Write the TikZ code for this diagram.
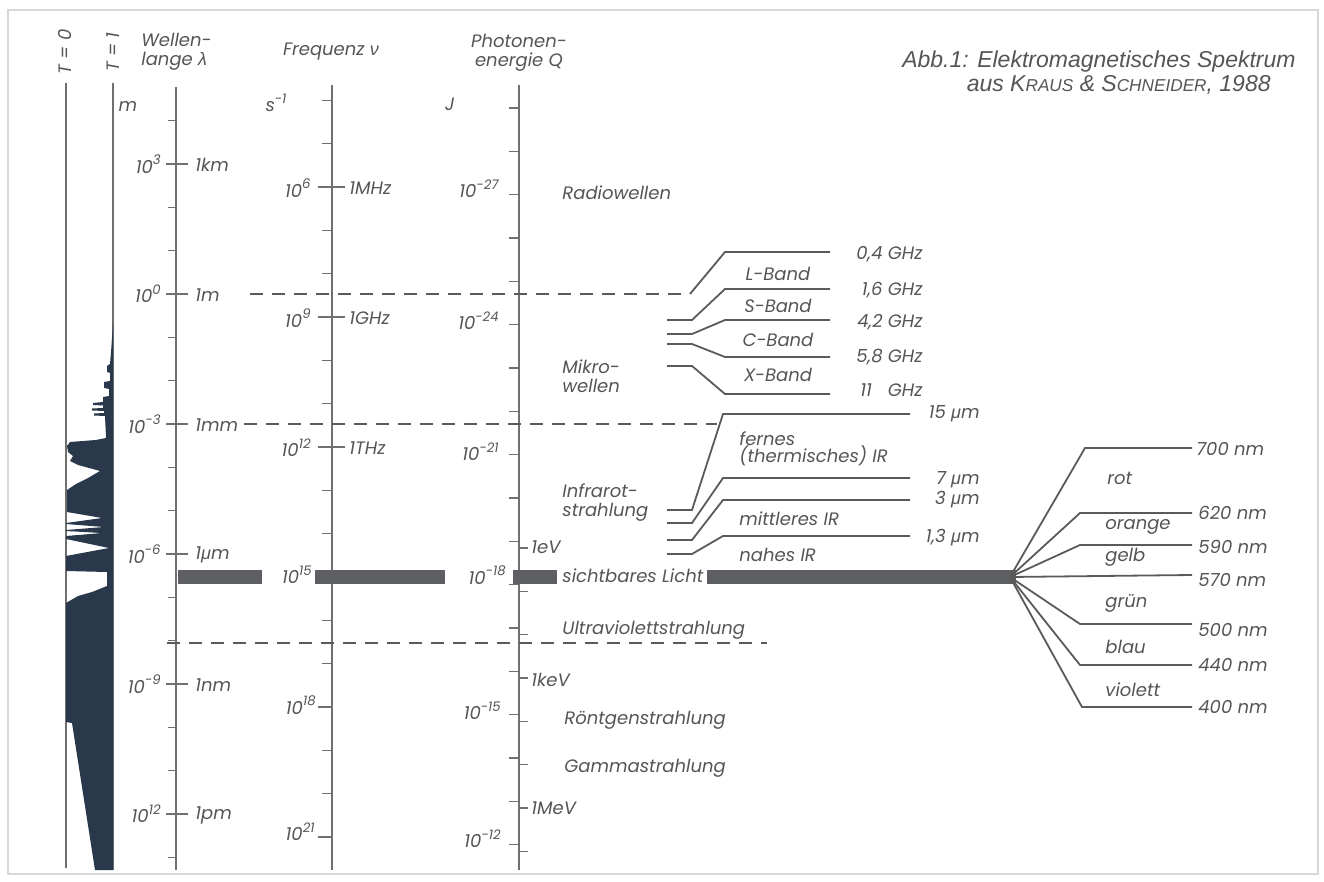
\documentclass[tikz,border=0pt]{standalone}
\usepackage{fontspec}
\setmainfont{Poppins}
\newfontfamily\ttlfont{Liberation Sans}
\newfontfamily\grkfont{Liberation Sans}
\definecolor{axc}{HTML}{707070}
\definecolor{txt}{HTML}{555555}
\definecolor{lnc}{HTML}{5A5A5A}
\definecolor{fillc}{RGB}{42,56,76}
\definecolor{barc}{HTML}{5E5F63}
\definecolor{framec}{HTML}{D8D8D8}
\newcommand\lbl{\fontsize{9}{10.5}\selectfont\itshape}
\newcommand\ep[1]{\raisebox{0.85ex}{\fontsize{6.6}{6.6}\selectfont #1}}
\newcommand\mum{{\grkfont\itshape μ}}
\begin{document}
\begin{tikzpicture}[x=0.5pt,y=-0.5pt,
  axisline/.style={draw=axc, line width=1pt},
  tk/.style={draw=axc, line width=0.7pt},
  bandline/.style={draw=lnc, line width=0.9pt},
  dsh/.style={draw=lnc, line width=0.9pt, dash pattern=on 6.5pt off 4.5pt},
  lab/.style={font=\lbl, text=txt, inner sep=0pt},
  lab2/.style={font=\lbl, text=txt, inner sep=0pt, align=left},
  barseg/.style={fill=barc, draw=none}]
\useasboundingbox (0,0) rectangle (1324,882);
% frame
\draw[framec, line width=0.8pt] (8,10) rectangle (1318,874);

% title
\node[anchor=east, inner sep=0pt, text=txt, font={\ttlfont\itshape\fontsize{11.5}{13}\selectfont}] (t1) at (1296,62) {Abb.1: Elektromagnetisches Spektrum};
\node[anchor=east, inner sep=0pt, text=txt, font={\ttlfont\itshape\fontsize{11.5}{13}\selectfont}] (t2) at (1271,85) {aus K{\fontsize{8.6}{10}\selectfont RAUS} \& S{\fontsize{8.6}{10}\selectfont CHNEIDER}, 1988};

% transmission strip
\draw[axisline] (66,83) -- (66,868);
\draw[axisline] (113,83) -- (113,870);
\fill[fillc] (113,322) -- (112,338) -- (111,352) -- (110,364) -- (107,366) -- (107,372) -- (110,373) -- (110,381)
 -- (104,382) -- (104,388) -- (109,389) -- (109,396) -- (103,397) -- (103,402) -- (93,403) -- (93,405)
 -- (103,405.5) -- (103,408) -- (92,408.5) -- (92,410.5) -- (104,411) -- (104,413) -- (94,413.5) -- (94,415.5)
 -- (105,416) -- (106,438) -- (96,440) -- (70,442) -- (67,446) -- (68,452) -- (73,456) -- (70,461) -- (78,465)
 -- (100,471) -- (88,478) -- (76,484) -- (67,490) -- (67,512) -- (102,518) -- (66,523) -- (66,524) -- (104,527)
 -- (66,530) -- (66,531) -- (102,533) -- (66,536) -- (66,539) -- (109,548) -- (66,556) -- (66,571) -- (107,572)
 -- (107,586) -- (92,592) -- (78,596) -- (66,603) -- (66,722) -- (72,723) -- (95,870) -- (113,870) -- cycle;
\node[lab, rotate=90] (T0) at (65,52) {T = 0};
\node[lab, rotate=90] (T1) at (113,52) {T = 1};

% axes
\draw[axisline] (176,87) -- (176,870);
\draw[axisline] (332,85) -- (332,870);
\draw[axisline] (519,85) -- (519,870);

% headers
\node[lab2, anchor=north west] (hw) at (141,33) {Wellen-\\[-1pt]lange {\grkfont\itshape λ}};
\node[lab] (hf) at (331,52) {Frequenz {\grkfont\itshape ν}};
\node[lab, align=center] (he) at (519,53) {Photonen-\\[-1pt]energie Q};
\node[lab] (um) at (128,106) {m};
\node[lab] (us) at (276,103) {s\ep{-1}};
\node[lab] (uj) at (450,104) {J};

% wavelength ticks
\foreach \n in {4,2,1,-1,-2,-4,-5,-7,-8,-10,-11,-13}
  \draw[tk] (168,{294-43.33*\n}) -- (176,{294-43.33*\n});
\foreach \n/\e/\u/\k in {3/3/1km/a,0/0/1m/b,-3/-3/1mm/c,-6/-6/1\mum m/d,-9/-9/1nm/e,-12/12/1pm/f}{
  \draw[tk] (166,{294-43.33*\n}) -- (188,{294-43.33*\n});
  \node[lab, anchor=east] (le\k) at (161,{294-43.33*\n}) {10\ep{\e}};
  \node[lab, anchor=west] (lu\k) at (195,{295-43.33*\n}) {\u};
}

% frequency ticks
\foreach \k in {4,5,7,8,10,11,13,14,16,17,19,20}
  \draw[tk] (322,{187+43.33*(\k-6)}) -- (332,{187+43.33*(\k-6)});
\foreach \k/\u/\m in {6/1MHz/a,9/1GHz/b,12/1THz/c}{
  \draw[tk] (318,{187+43.33*(\k-6)}) -- (345,{187+43.33*(\k-6)});
  \node[lab, anchor=east] (fe\m) at (311,{188+43.33*(\k-6)}) {10\ep{\k}};
  \node[lab, anchor=west] (fu\m) at (349,{188+43.33*(\k-6)}) {\u};
}
\draw[tk] (318,707) -- (332,707);
\draw[tk] (318,837) -- (332,837);
\node[lab, anchor=east] (fed) at (312,575) {10\ep{15}};
\node[lab, anchor=east] (fee) at (316,705) {10\ep{18}};
\node[lab, anchor=east] (fef) at (315,832) {10\ep{21}};

% energy ticks
\foreach \j in {0,...,17}
  \draw[tk] (509,{108+43.33*\j}) -- (519,{108+43.33*\j});
\foreach \m in {0,...,7}
  \draw[tk] (519,{548+43.33*\m}) -- (528,{548+43.33*\m});
\node[lab, anchor=east] (ee1) at (499,189) {10\ep{-27}};
\node[lab, anchor=east] (ee2) at (499,321) {10\ep{-24}};
\node[lab, anchor=east] (ee3) at (499,452) {10\ep{-21}};
\node[lab, anchor=east] (ee4) at (506,575) {10\ep{-18}};
\node[lab, anchor=east] (ee5) at (501,711) {10\ep{-15}};
\node[lab, anchor=east] (ee6) at (501,839) {10\ep{-12}};
\node[lab, anchor=west] (ev1) at (531,547) {1eV};
\node[lab, anchor=west] (ev2) at (531,680) {1keV};
\node[lab, anchor=west] (ev3) at (531,808) {1MeV};

% dashed lines
\draw[dsh] (250,294) -- (690,294);
\draw[dsh] (244,424) -- (717,424);
\draw[dsh] (167,643) -- (767,643);

% visible bars
\fill[barseg] (178,570) rectangle (262,584);
\fill[barseg] (315,570) rectangle (445,584);
\fill[barseg] (513,570) rectangle (557,584);
\fill[barseg] (707,570) rectangle (1016,584);

% region labels
\node[lab, anchor=west] (rw) at (562,193) {Radiowellen};
\node[lab2, anchor=north west] (mw) at (562,359) {Mikro-\\[-1pt]wellen};
\node[lab2, anchor=north west] (ir) at (562,483) {Infrarot-\\[-1pt]strahlung};
\node[lab, anchor=west] (sl) at (562,576) {sichtbares Licht};
\node[lab, anchor=west] (uv) at (562,630) {Ultraviolettstrahlung};
\node[lab, anchor=west] (xr) at (564,720) {Röntgenstrahlung};
\node[lab, anchor=west] (gs) at (564,768) {Gammastrahlung};

% microwave bands
\coordinate (mwj) at (690,294);
\draw[bandline] (mwj) -- (725,252) -- (830,252);
\draw[bandline] (667,320) -- (692,320) -- (725,289) -- (830,289);
\draw[bandline] (667,334) -- (692,334) -- (725,320) -- (830,320);
\draw[bandline] (667,344) -- (692,344) -- (725,357) -- (830,357);
\draw[bandline] (667,366) -- (692,366) -- (725,394) -- (830,394);
\node[lab, anchor=east] (g1) at (923,254) {0,4 GHz};
\node[lab, anchor=east] (g2) at (923,290) {1,6 GHz};
\node[lab, anchor=east] (g3) at (923,322) {4,2 GHz};
\node[lab, anchor=east] (g4) at (923,357) {5,8 GHz};
\node[lab, anchor=east] (g5) at (923,390) {11\hspace{8pt}GHz};
\node[lab] (bL) at (778,274) {L-Band};
\node[lab] (bS) at (778,306) {S-Band};
\node[lab] (bC) at (778,340) {C-Band};
\node[lab] (bX) at (778,375) {X-Band};

% infrared
\draw[bandline] (667,510) -- (692,510) -- (723,414) -- (910,414);
\draw[bandline] (667,523) -- (692,523) -- (723,478) -- (910,478);
\draw[bandline] (667,540) -- (692,540) -- (723,500) -- (910,500);
\draw[bandline] (667,554) -- (692,554) -- (723,536) -- (910,536);
\node[lab, anchor=east] (i1) at (980,414) {15 \mum m};
\node[lab, anchor=east] (i2) at (980,480) {7 \mum m};
\node[lab, anchor=east] (i3) at (980,500) {3 \mum m};
\node[lab, anchor=east] (i4) at (980,538) {1,3 \mum m};
\node[lab2, anchor=north west] (fir) at (739,431) {fernes\\[-2pt](thermisches) IR};
\node[lab, anchor=west] (mir) at (739,519) {mittleres IR};
\node[lab, anchor=west] (nir) at (739,555) {nahes IR};

% visible fan
\coordinate (fan) at (1010,577);
\draw[bandline] (fan) -- (1085,448) -- (1192,448);
\draw[bandline] (fan) -- (1080,513) -- (1192,513);
\draw[bandline] (fan) -- (1080,545) -- (1192,545);
\draw[bandline] (fan) -- (1192,575);
\draw[bandline] (fan) -- (1080,624) -- (1192,624);
\draw[bandline] (fan) -- (1080,665) -- (1192,665);
\draw[bandline] (fan) -- (1082,707) -- (1192,707);
\node[lab, anchor=west] (v1) at (1196,449) {700 nm};
\node[lab, anchor=west] (v2) at (1198,513) {620 nm};
\node[lab, anchor=west] (v3) at (1198,547) {590 nm};
\node[lab, anchor=west] (v4) at (1198,580) {570 nm};
\node[lab, anchor=west] (v5) at (1198,630) {500 nm};
\node[lab, anchor=west] (v6) at (1198,665) {440 nm};
\node[lab, anchor=west] (v7) at (1198,707) {400 nm};
\node[lab, anchor=west] (c1) at (1107,478) {rot};
\node[lab, anchor=west] (c2) at (1105,527) {orange};
\node[lab, anchor=west] (c3) at (1105,557) {gelb};
\node[lab, anchor=west] (c4) at (1105,603) {grün};
\node[lab, anchor=west] (c5) at (1105,647) {blau};
\node[lab, anchor=west] (c6) at (1105,690) {violett};
\end{tikzpicture}
\end{document}
